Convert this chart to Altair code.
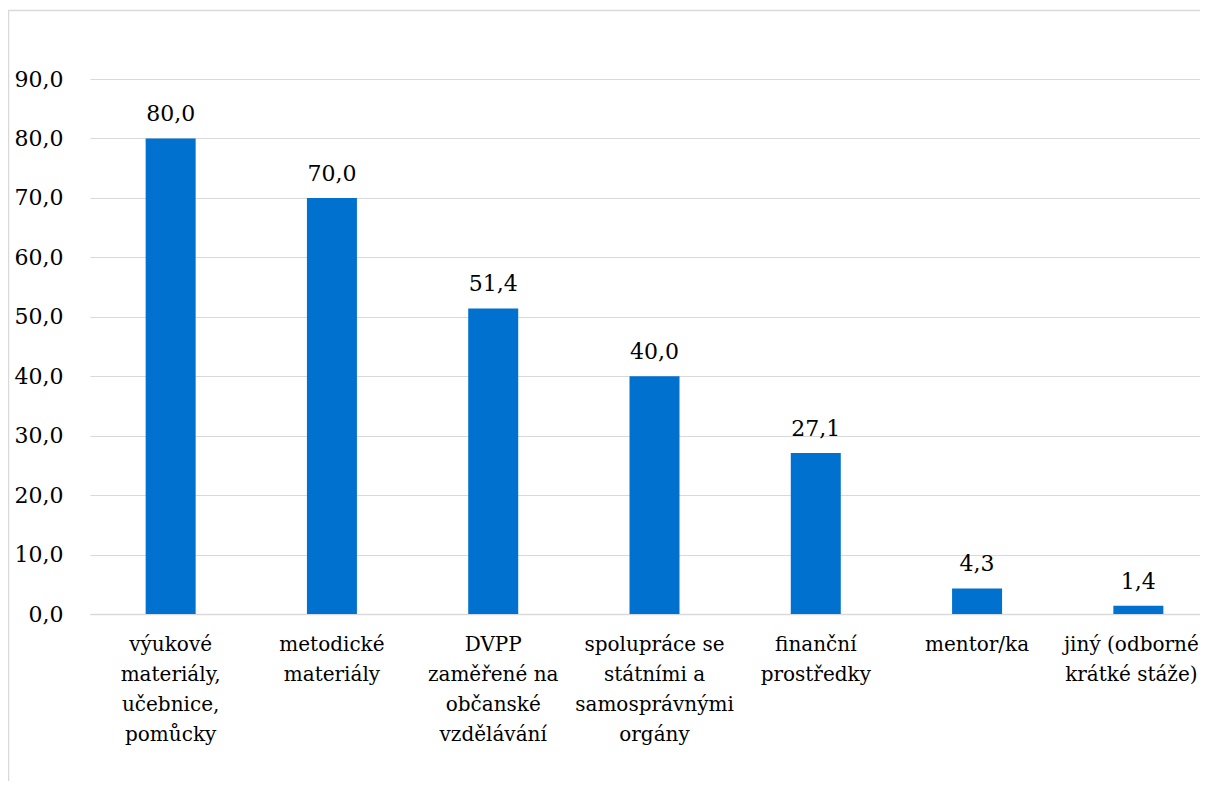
import altair as alt
import pandas as pd

categories = [
    "výukové|materiály,|učebnice,|pomůcky",
    "metodické|materiály",
    "DVPP|zaměřené na|občanské|vzdělávání",
    "spolupráce se|státními a|samosprávnými|orgány",
    "finanční|prostředky",
    "mentor/ka",
    "jiný (odborné|krátké stáže)",
]
values = [80.0, 70.0, 51.4, 40.0, 27.1, 4.3, 1.4]
y_ticks = [0, 10, 20, 30, 40, 50, 60, 70, 80, 90]

df = pd.DataFrame({"cat": categories, "val": values})

FONT = "DejaVu Serif"
GRID = "#d9d9d9"
BLUE = "#0071CE"

x_enc = alt.X(
    "cat:N",
    sort=categories,
    title=None,
    scale=alt.Scale(range=[0, 1129], paddingInner=0.69, paddingOuter=0.345),
    axis=alt.Axis(
        labelAngle=0,
        labelExpr="split(datum.label, '|')",
        labelFont=FONT,
        labelFontSize=20,
        labelColor="black",
        labelLineHeight=30,
        labelPadding=20,
        labelBaseline="top",
        labelOffset={
            "condition": {"test": "datum.value === '" + categories[-1] + "'", "value": -7},
            "value": 0,
        },
        ticks=False,
        domainColor=GRID,
        domainWidth=1.5,
        labelLimit=300,
    ),
)
y_enc = alt.Y(
    "val:Q",
    title=None,
    scale=alt.Scale(domain=[0, 90], nice=False),
    axis=alt.Axis(
        values=y_ticks,
        labelExpr="replace(format(datum.value, '.1f'), '.', ',')",
        labelFont=FONT,
        labelFontSize=22,
        labelColor="black",
        labelPadding=27,
        ticks=False,
        domain=False,
        gridColor=GRID,
        gridWidth=1,
    ),
)

bars = alt.Chart(df).mark_bar(color=BLUE).encode(x=x_enc, y=y_enc)

labels = (
    alt.Chart(df)
    .transform_calculate(lbl="replace(format(datum.val, '.1f'), '.', ',')")
    .mark_text(font=FONT, fontSize=22, color="black", baseline="alphabetic", dy=-17)
    .encode(x=alt.X("cat:N", sort=categories), y="val:Q", text="lbl:N")
)

frame = (
    alt.Chart(pd.DataFrame({"k": [0]}))
    .mark_rect(fill=None, stroke=GRID, strokeWidth=1.5)
    .encode(
        x=alt.value(-81.5),
        x2=alt.value(1400),
        y=alt.value(-68.5),
        y2=alt.value(900),
    )
)

chart = (
    alt.layer(frame, bars, labels)
    .properties(
        width=1110,
        height=535,
        autosize=alt.AutoSizeParams(type="none"),
        padding={"left": 82, "top": 71, "right": 0, "bottom": 167},
    )
    .configure_view(stroke=None)
)

chart.save("out.html", embed_options={"renderer": "svg", "actions": False})
